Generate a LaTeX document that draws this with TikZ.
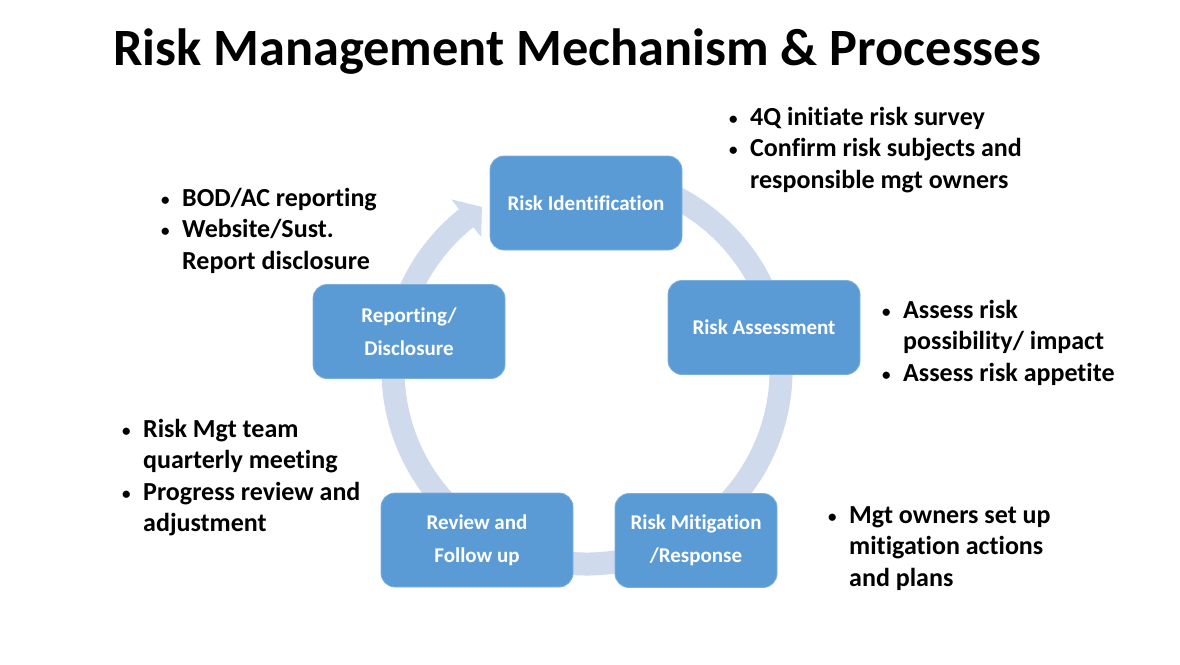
\documentclass[tikz,border=0pt]{standalone}
\usepackage{fontspec}
\setmainfont[Ligatures=NoCommon]{Carlito}
\definecolor{boxblue}{RGB}{91,155,213}
\definecolor{boxedge}{RGB}{125,175,222}
\definecolor{ringblue}{RGB}{207,218,237}
\newcommand{\bitem}{\makebox[22pt][l]{\hspace*{1pt}\raisebox{1pt}{\fontsize{17}{17}\selectfont\textbullet}}}
\begin{document}
\begin{tikzpicture}[x=1pt,y=-1pt,
    stepbox/.style={fill=boxblue,draw=boxedge,line width=0.8pt,rounded corners=14pt,
      minimum height=94pt,text=white,align=center,font=\bfseries\fontsize{21}{33}\selectfont},
    notes/.style={anchor=base west,inner sep=0pt,font=\bfseries\fontsize{26}{31.5}\selectfont}]
  \fill[white] (0,0) rectangle (1180,664);
  \useasboundingbox (0,0) rectangle (1180,664);
  \node[anchor=base west,inner sep=0pt,font=\bfseries\fontsize{52.4}{60}\selectfont] (title) at (113,65) {Risk Management Mechanism \& Processes};
  % cycle ring with its head
  \coordinate (c) at (587,370);
  \begin{scope}[shift={(c)}]
    \draw[ringblue,line width=23pt] (-100:194) arc[start angle=-100,end angle=231.5,radius=194];
    \fill[ringblue] (231.5:170) -- (231.5:218) -- (237.2:194) -- cycle;
  \end{scope}
  % steps
  \node[stepbox,minimum width=192pt] (ident) at (586,203) {Risk Identification};
  \node[stepbox,minimum width=192pt] (assess) at (764,327.5) {Risk Assessment};
  \node[stepbox,minimum width=162pt] (mitig) at (696,540.5) {Risk Mitigation\\/Response};
  \node[stepbox,minimum width=192pt] (review) at (477,540) {Review and\\Follow up};
  \node[stepbox,minimum width=192pt] (report) at (409,331.5) {Reporting/\\Disclosure};
  % notes
  \node[notes] (identnotes) at (728,125) {\begin{tabular}[t]{@{}l@{}}\bitem 4Q initiate risk survey\\ \bitem Confirm risk subjects and\\ \hspace*{22pt}responsible mgt owners\end{tabular}};
  \node[notes] (reportnotes) at (160,206) {\begin{tabular}[t]{@{}l@{}}\bitem BOD/AC reporting\\ \bitem Website/Sust.\\ \hspace*{22pt}Report disclosure\end{tabular}};
  \node[notes] (assessnotes) at (881,318) {\begin{tabular}[t]{@{}l@{}}\bitem Assess risk\\ \hspace*{22pt}possibility/ impact\\ \bitem Assess risk appetite\end{tabular}};
  \node[notes] (reviewnotes) at (121,437) {\begin{tabular}[t]{@{}l@{}}\bitem Risk Mgt team\\ \hspace*{22pt}quarterly meeting\\ \bitem Progress review and\\ \hspace*{22pt}adjustment\end{tabular}};
  \node[notes] (mitignotes) at (827,523) {\begin{tabular}[t]{@{}l@{}}\bitem Mgt owners set up\\ \hspace*{22pt}mitigation actions\\ \hspace*{22pt}and plans\end{tabular}};
\end{tikzpicture}
\end{document}
